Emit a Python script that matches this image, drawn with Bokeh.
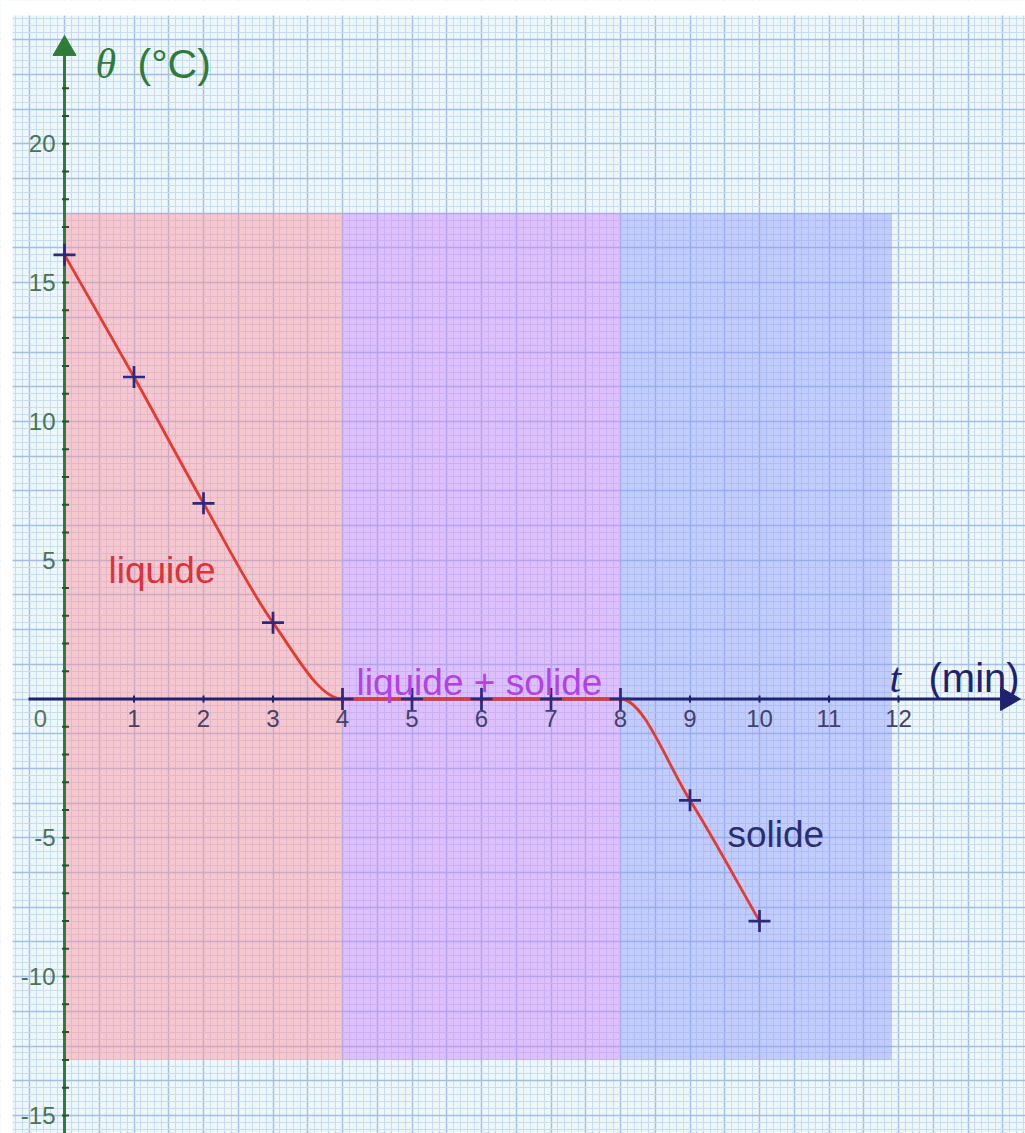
import numpy as np
from bokeh.plotting import figure
from bokeh.models import Range1d, Grid, SingleIntervalTicker
from bokeh.core.properties import value
from bokeh.embed import file_html
from bokeh.resources import INLINE

# ---------------- data ----------------
t_min = [0, 1, 2, 3, 4, 5, 6, 7, 8, 9, 10]
theta_c = [16.0, 11.6, 7.05, 2.75, 0.0, 0.0, 0.0, 0.0, 0.0, -3.65, -8.0]

phase_names = ["liquide", "liquide + solide", "solide"]
phase_start = [0, 4, 8]
phase_end = [4, 8, 11.9]
phase_bottom = -13.0
phase_top = 17.5

x_tick_values = [1, 2, 3, 4, 5, 6, 7, 8, 9, 10, 11, 12]
y_tick_values = [-15, -10, -5, 5, 10, 15, 20]
origin_label = "0"
y_title = ["θ", "(°C)"]
x_title = ["t", "(min)"]

# ---------------- layout / style ----------------
W, H = 1025, 1133
X0_PX, X_SCALE = 64, 69.5      # pixel of t=0 inside the figure, px per minute
Y0_PX, Y_SCALE = 698.5, 27.76  # pixel of theta=0 inside the figure, px per degree

def dx(px):  # pixel distance -> data units
    return px / X_SCALE

def dy(px):
    return px / Y_SCALE

x_lo = -X0_PX / X_SCALE
x_hi = (W - X0_PX) / X_SCALE
y_hi = Y0_PX / Y_SCALE
y_lo = -(H - Y0_PX) / Y_SCALE

p = figure(width=W, height=H, x_range=Range1d(x_lo, x_hi), y_range=Range1d(y_lo, y_hi),
           x_axis_type=None, y_axis_type=None, toolbar_location=None,
           output_backend="svg", min_border=0, min_border_left=0, min_border_right=0,
           min_border_top=0, min_border_bottom=0, outline_line_color=None,
           background_fill_color="#eef7fc", border_fill_color="white")

# millimetre paper
p.add_layout(Grid(dimension=0, ticker=SingleIntervalTicker(interval=0.5, num_minor_ticks=5),
                  grid_line_color="#a2bfe6", grid_line_width=1.4,
                  minor_grid_line_color="#c8ddf2", minor_grid_line_width=1))
p.add_layout(Grid(dimension=1, ticker=SingleIntervalTicker(interval=1.25, num_minor_ticks=5),
                  grid_line_color="#a2bfe6", grid_line_width=1.4,
                  minor_grid_line_color="#c8ddf2", minor_grid_line_width=1))

# white page edges (top / left)
p.quad(left=[x_lo], right=[x_hi], bottom=[y_hi - dy(15)], top=[y_hi], fill_color="white", line_color=None)
p.quad(left=[x_lo], right=[x_lo + dx(12)], bottom=[y_lo], top=[y_hi], fill_color="white", line_color=None)

# phase zones
phase_fill = ["#ff8c98", "#c77dff", "#8c96ff"]
p.quad(left=phase_start, right=phase_end, bottom=[phase_bottom] * 3, top=[phase_top] * 3,
       fill_color=phase_fill, fill_alpha=0.45, line_color=None)

GREEN = "#2f7b3a"
NAVY = "#1f2270"
TRI = 23
TRI_OFF = TRI * 0.577  # centre-to-tip distance of the triangle marker

# y axis (green) with arrow
y_tip = y_hi - dy(35)
p.segment(x0=[0], y0=[y_lo], x1=[0], y1=[y_tip - dy(12)], line_color=GREEN, line_width=3)
p.scatter(x=[0], y=[y_tip - dy(TRI_OFF)], marker="triangle", size=TRI,
          fill_color=GREEN, line_color=GREEN, angle=0)
y_minor = list(range(-15, 23))
p.scatter(x=[dx(1)] * len(y_minor), y=y_minor, marker="dash", size=7,
          line_color="#1f5a28", line_width=2)

# x axis (navy) with arrow
x_tip = x_lo + dx(1020)
p.segment(x0=[-dx(36)], y0=[0], x1=[x_tip - dx(12)], y1=[0], line_color=NAVY, line_width=3)
p.scatter(x=[x_tip - dx(TRI_OFF)], y=[0], marker="triangle", size=TRI,
          fill_color=NAVY, line_color=NAVY, angle=-np.pi / 2)
p.scatter(x=x_tick_values, y=[0] * len(x_tick_values), marker="dash", size=7,
          line_color=NAVY, line_width=2, angle=np.pi / 2)

# tick labels
FONT = value("Liberation Sans")
p.text(x=x_tick_values, y=[-dy(19.5)] * len(x_tick_values), text=[str(v) for v in x_tick_values],
       text_font=FONT, text_font_size="24px", text_color="#45416a",
       text_align="center", text_baseline="middle")
p.text(x=[-dx(24)], y=[-dy(19.5)], text=[origin_label], text_font=FONT, text_font_size="24px",
       text_color="#557a5b", text_align="center", text_baseline="middle")
p.text(x=[-dx(9)] * len(y_tick_values), y=y_tick_values, text=[str(v) for v in y_tick_values],
       text_font=FONT, text_font_size="24px", text_color="#4a7550",
       text_align="right", text_baseline="middle")

# axis titles
p.text(x=[dx(31)], y=[dy(635.5)], text=[y_title[0]], text_font=value("Liberation Serif"),
       text_font_style="italic", text_font_size="42px", text_color=GREEN,
       text_align="left", text_baseline="alphabetic")
p.text(x=[dx(73)], y=[dy(635.5)], text=[y_title[1]], text_font=FONT,
       text_font_size="41px", text_color=GREEN, text_align="left", text_baseline="alphabetic")
p.text(x=[dx(825)], y=[dy(21.5)], text=[x_title[0]], text_font=value("Liberation Serif"),
       text_font_style="italic", text_font_size="42px", text_color=NAVY,
       text_align="left", text_baseline="alphabetic")
p.text(x=[dx(864)], y=[dy(21.5)], text=[x_title[1]], text_font=FONT,
       text_font_size="40px", text_color=NAVY, text_align="left", text_baseline="alphabetic")

# cooling curve: monotone cubic (Fritsch-Carlson) segments drawn with Bokeh's bezier glyph
xs = np.array(t_min, dtype=float)
ys = np.array(theta_c, dtype=float)
h = np.diff(xs)
d = np.diff(ys) / h
m = np.zeros_like(ys)
m[0], m[-1] = d[0], d[-1]
for k in range(1, len(ys) - 1):
    m[k] = 0.0 if d[k - 1] * d[k] <= 0 else (d[k - 1] + d[k]) / 2
for k in range(len(d)):
    if d[k] == 0:
        m[k] = m[k + 1] = 0.0
    else:
        a, b = m[k] / d[k], m[k + 1] / d[k]
        s = a * a + b * b
        if s > 9:
            tau = 3 / np.sqrt(s)
            m[k], m[k + 1] = tau * a * d[k], tau * b * d[k]
p.bezier(x0=xs[:-1], y0=ys[:-1], x1=xs[1:], y1=ys[1:],
         cx0=xs[:-1] + h / 3, cy0=ys[:-1] + m[:-1] * h / 3,
         cx1=xs[1:] - h / 3, cy1=ys[1:] - m[1:] * h / 3,
         line_color="#e8392f", line_width=2.8)

# measured points
p.scatter(x=t_min, y=theta_c, marker="cross", size=22, line_color="#2b2a7c", line_width=2.7)

# phase labels
label_x = [dx(44), 4 + dx(14), 8 + dx(107)]
label_y = [dy(128.5), dy(16.5), -dy(135.5)]
label_color = ["#e0303a", "#b342e6", "#2a2f72"]
p.text(x=label_x, y=label_y, text=phase_names, text_font=FONT, text_font_size="37px",
       text_color=label_color, text_align="left", text_baseline="alphabetic")

open("out.html", "w").write(file_html(p, INLINE))
